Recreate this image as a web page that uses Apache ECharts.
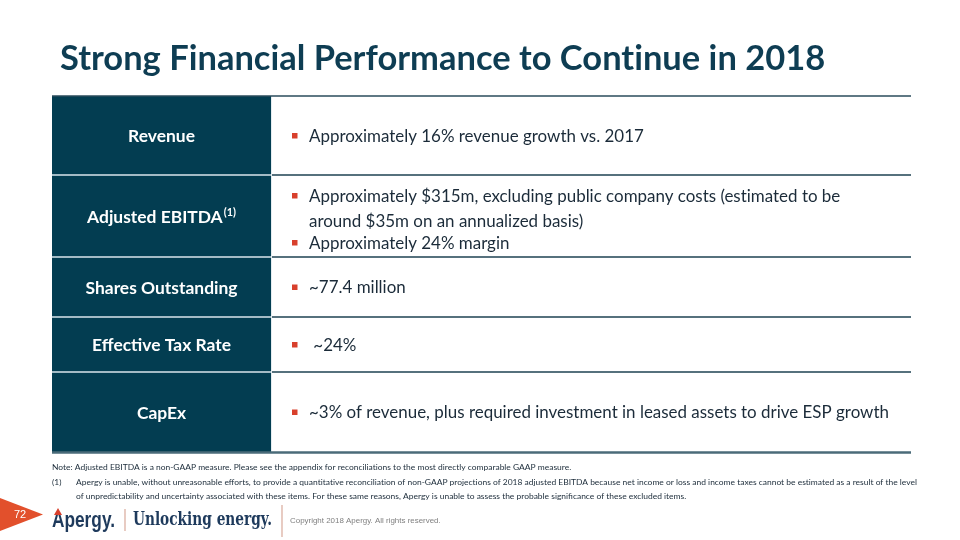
<!DOCTYPE html>
<html><head><meta charset="utf-8">
<script src="https://cdn.jsdelivr.net/npm/echarts@6/dist/echarts.min.js"></script>
<style>html,body{margin:0;padding:0;background:#fff}#c{width:960px;height:540px}</style>
</head><body><div id="c"></div>
<script>
// ---------- content ----------
const title = 'Strong Financial Performance to Continue in 2018';
const rowLabels = ['Revenue', 'Adjusted EBITDA', 'Shares Outstanding', 'Effective Tax Rate', 'CapEx'];
const rowLabelSup = ['', '(1)', '', '', ''];
const rowBullets = [
  [['Approximately 16% revenue growth vs. 2017']],
  [['Approximately $315m, excluding public company costs (estimated to be', 'around $35m on an annualized basis)'], ['Approximately 24% margin']],
  [['~77.4 million']],
  [[' ~24%']],
  [['~3% of revenue, plus required investment in leased assets to drive ESP growth']]
];
const noteText = 'Note: Adjusted EBITDA is a non-GAAP measure. Please see the appendix for reconciliations to the most directly comparable GAAP measure.';
const footnoteMarker = '(1)';
const footnoteLines = [
  'Apergy is unable, without unreasonable efforts, to provide a quantitative reconciliation of non-GAAP projections of 2018 adjusted EBITDA because net income or loss and income taxes cannot be estimated as a result of the level',
  'of unpredictability and uncertainty associated with these items. For these same reasons, Apergy is unable to assess the probable significance of these excluded items.'
];
const pageNumber = '72';
const brandName = 'Apergy.';
const tagline = 'Unlocking energy.';
const copyright = 'Copyright 2018 Apergy. All rights reserved.';

// ---------- layout / style ----------
const rowEdges = [96, 175, 257, 317, 372, 452];
const tableLeft = 52, colSplit = 271, tableRight = 911;
const navy = '#033d51', titleColor = '#0e3d53', textColor = '#1b2b39', red = '#d8402c';
const bodyFont = 'Lato, "Noto Sans", sans-serif';
const headFont = 'Lato, "Noto Sans", sans-serif';
const brandFont = '"Liberation Sans", sans-serif';
const tagFont = '"DejaVu Serif", serif';

const cv = document.createElement('canvas').getContext('2d');
function measure(text, weight, family, size) {
  cv.font = weight + ' ' + size + 'px ' + family;
  return cv.measureText(text).width;
}
function fit(text, weight, family, target) {
  return 100 * target / measure(text, weight, family, 100);
}
// split text into rich segments so that "ti" ligatures are not formed
function richNoLig(text, key) {
  return text.split(/(?<=t)(?=i)/).map(s => '{' + key + '|' + s + '}').join('');
}
const titleSize = fit(title, 'bold', headFont, 766);
const bodySize = fit(rowBullets[4][0][0], 'normal', bodyFont, 580);
const labelSize = fit(rowLabels[2], 'bold', headFont, 152);
const noteSize = fit(noteText, 'normal', bodyFont, 520);
const brandScale = 63 / measure(brandName, 'bold', brandFont, 22);
const tagScale = 139 / measure(tagline, 'bold', tagFont, 18);
const copySize = fit(copyright, 'normal', brandFont, 151);

const g = [];
// title
g.push({type: 'text', left: 60, top: 42, style: {text: richNoLig(title, 't'),
  rich: {t: {font: 'bold ' + titleSize.toFixed(2) + 'px ' + headFont, fill: titleColor}}}});

// rows
const bf = bodySize.toFixed(2) + 'px ' + bodyFont;
rowLabels.forEach((lab, i) => {
  const y0 = rowEdges[i], y1 = rowEdges[i + 1], cy = (y0 + y1) / 2 + 1;
  g.push({type: 'rect', shape: {x: tableLeft, y: y0, width: colSplit - tableLeft, height: y1 - y0}, style: {fill: navy}, z: 1});
  g.push({type: 'text', x: (tableLeft + colSplit) / 2, y: cy, z: 5,
    style: {text: rowLabelSup[i] ? '{m|' + lab + '}{s|' + rowLabelSup[i] + '}' : '{m|' + lab + '}', align: 'center', verticalAlign: 'middle',
      rich: {m: {font: 'bold ' + labelSize.toFixed(2) + 'px ' + headFont, fill: '#fff', height: 20},
             s: {font: 'bold ' + (labelSize * 0.62).toFixed(2) + 'px ' + headFont, fill: '#fff', verticalAlign: 'top', padding: [0, 0, 9, 1]}}}});
  // bullets
  const bl = rowBullets[i];
  const lineH = 25, paraGap = 22;
  let offs = [], cur = 0;
  bl.forEach((p, pi) => { p.forEach((ln, li) => { offs.push({t: ln, b: li === 0, o: cur}); cur += (li < p.length - 1) ? lineH : paraGap; }); });
  const span = offs[offs.length - 1].o;
  const base = cy - span / 2 + (offs.length > 1 ? 3 : 0);
  offs.forEach(o => {
    const y = base + o.o;
    if (o.b) g.push({type: 'rect', z: 5, shape: {x: 292, y: y - 3.5, width: 5.5, height: 5.5}, style: {fill: red}});
    g.push({type: 'text', x: 309, y: y, z: 5, style: {text: richNoLig(o.t, 'b'), verticalAlign: 'middle',
      rich: {b: {font: bf, fill: textColor}}}});
  });
});
// row separators
for (let i = 1; i < rowEdges.length - 1; i++) {
  const y = rowEdges[i];
  g.push({type: 'line', z: 3, shape: {x1: colSplit, y1: y, x2: tableRight, y2: y}, style: {stroke: '#1e4252', lineWidth: 1.6}});
  g.push({type: 'line', z: 3, shape: {x1: tableLeft, y1: y, x2: colSplit, y2: y}, style: {stroke: '#dbe6ec', lineWidth: 1.6}});
}
g.push({type: 'line', z: 3, shape: {x1: colSplit + 0.5, y1: rowEdges[0], x2: colSplit + 0.5, y2: rowEdges[5]}, style: {stroke: '#e4ecf0', lineWidth: 1}});
g.push({type: 'line', z: 4, shape: {x1: tableLeft, y1: rowEdges[0], x2: tableRight, y2: rowEdges[0]}, style: {stroke: '#2a4b5b', lineWidth: 1.6}});
g.push({type: 'line', z: 4, shape: {x1: tableLeft, y1: rowEdges[5] + 0.5, x2: tableRight, y2: rowEdges[5] + 0.5}, style: {stroke: '#4a6b79', lineWidth: 2.6}});

// notes
const nf = noteSize.toFixed(2) + 'px ' + bodyFont;
g.push({type: 'text', x: 52, y: 467, style: {text: richNoLig(noteText, 'n'), verticalAlign: 'middle', rich: {n: {font: nf, fill: textColor}}}});
g.push({type: 'text', x: 52, y: 482, style: {text: footnoteMarker, font: nf, fill: textColor, verticalAlign: 'middle'}});
footnoteLines.forEach((t, i) => g.push({type: 'text', x: 76, y: 482 + i * 14, style: {text: richNoLig(t, 'n'), verticalAlign: 'middle', rich: {n: {font: nf, fill: textColor}}}}));

// footer
g.push({type: 'polygon', shape: {points: [[0, 498], [0, 531], [43, 514.5]]}, style: {fill: '#e2502c'}});
g.push({type: 'text', x: 14, y: 515, style: {text: pageNumber, font: '11px "Liberation Sans", Arial, sans-serif', fill: '#fff', verticalAlign: 'middle'}});
g.push({type: 'text', x: 52, y: 521, scaleX: brandScale, originX: 0, originY: 0,
  style: {text: brandName, font: 'bold 22px ' + brandFont, fill: '#1e3a5c', verticalAlign: 'middle'}});
g.push({type: 'polygon', z: 3, shape: {points: [[54, 515], [58, 508], [62, 515]]}, style: {fill: '#d8402c'}});
g.push({type: 'line', shape: {x1: 125, y1: 509, x2: 125, y2: 531}, style: {stroke: '#d9a99a', lineWidth: 1.2}});
g.push({type: 'text', x: 133, y: 520, scaleX: tagScale, originX: 0, originY: 0,
  style: {text: tagline, font: 'bold 18px ' + tagFont, fill: '#1e3a5c', verticalAlign: 'middle'}});
g.push({type: 'line', shape: {x1: 282, y1: 505, x2: 282, y2: 537}, style: {stroke: '#d9a99a', lineWidth: 1.2}});
g.push({type: 'text', x: 290, y: 521, style: {text: copyright, font: copySize.toFixed(2) + 'px ' + brandFont, fill: '#808080', verticalAlign: 'middle'}});

const chart = echarts.init(document.getElementById('c'), null, {renderer: 'canvas'});
chart.setOption({backgroundColor: '#fff', animation: false, graphic: {elements: g}});
</script></body></html>
